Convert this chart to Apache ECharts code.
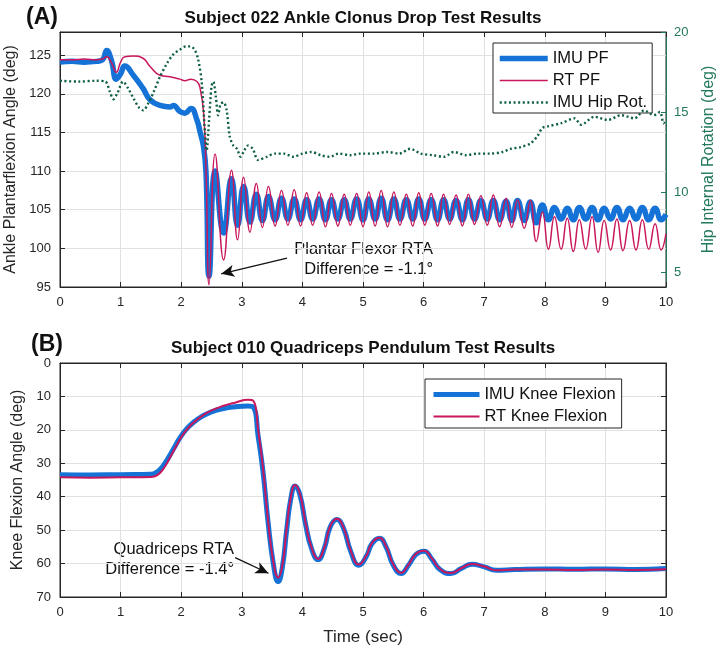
<!DOCTYPE html>
<html><head><meta charset="utf-8">
<script src="https://cdn.jsdelivr.net/npm/echarts@6/dist/echarts.min.js"></script>
<style>html,body{margin:0;padding:0;background:#fff}#c{width:722px;height:652px}</style>
</head><body><div id="c"></div>
<script>
// ---------- Panel A data ----------
const pfTime = [
  0,0.2,0.4,0.6,0.7,0.77,0.85,0.93,1.0,1.07,1.21,1.37,1.49,1.65,1.82,1.87,1.98,2.06,2.16,2.26,2.31,2.37,2.41,2.46,
  2.56,2.70,2.83,2.93,3.03,3.135,3.24,3.34,3.44,3.55,
  3.655,3.76,3.865,3.97,4.07,4.17,4.275,4.38,4.48,4.585,
  4.69,4.79,4.895,5.0,5.095,5.2,5.30,5.405,5.51,5.61,
  5.715,5.82,5.92,6.02,6.125,6.23,6.33,6.43,6.535,6.64,
  6.74,6.84,6.945,7.05,7.15,7.255,7.36,7.455,7.55,7.66,
  7.76,7.86,7.96,8.06,8.16,8.27,8.37,8.47,8.57,8.675,
  8.78,8.88,8.98,9.085,9.19,9.29,9.40,9.505,9.61,9.715,
  9.82,9.92,10.0
];
const imuPF = [
  124.1,124.2,124.1,124.2,124.4,125.6,124.3,121.9,122.6,123.6,122.4,120.7,119.2,118.5,118.3,118.5,117.7,117.5,118.1,116.6,115.1,113.1,109.7,96.4,
  110.0,102.0,109.0,103.0,108.0,103.4,107.0,103.6,106.7,103.7,
  106.5,103.8,106.4,103.7,106.3,103.8,106.4,103.7,106.3,103.8,
  106.3,103.8,106.4,103.7,106.4,103.8,106.5,103.7,106.4,103.8,
  106.3,103.8,106.4,103.8,106.3,103.7,106.3,103.8,106.2,103.7,
  106.3,103.8,106.2,103.8,106.2,103.7,106.1,103.6,106.2,103.6,
  106.0,103.3,105.6,103.7,105.3,103.8,105.2,103.7,105.3,103.8,
  105.3,103.7,105.2,103.8,105.3,103.7,105.2,103.8,105.3,103.7,
  105.2,103.7,104.4
];
const rtPF = [
  124.4,124.4,124.5,124.4,124.5,124.8,124.0,122.8,124.1,124.8,124.9,124.6,123.5,122.4,122.2,122.1,121.9,121.7,121.9,121.6,120.8,117.5,110.0,95.3,
  112.2,98.5,110.1,101.1,109.2,102.1,108.4,102.7,108.0,102.9,
  107.5,103.0,107.6,102.9,107.2,103.0,107.3,102.8,107.1,102.9,
  107.0,103.0,107.1,102.8,107.3,102.9,107.5,102.8,107.3,103.0,
  107.0,102.9,107.2,103.0,107.1,102.9,107.0,103.1,106.9,102.9,
  107.0,103.1,106.8,103.0,106.9,102.8,106.5,102.7,106.3,102.6,
  106.2,100.9,104.7,99.9,104.1,99.9,103.9,99.6,103.7,99.9,
  104.1,99.5,103.6,99.8,103.8,99.7,103.6,99.8,103.7,99.9,
  103.2,99.8,101.9
];
const hipTime = [
  0,0.3,0.6,0.75,0.82,0.88,0.95,1.04,1.12,1.22,1.3,1.375,1.45,1.54,1.65,1.76,1.87,1.98,2.08,2.15,
  2.22,2.28,2.34,2.39,2.42,2.46,2.5,2.53,2.57,2.61,2.65,2.7,2.75,2.8,2.86,2.92,2.98,3.04,3.1,3.18,
  3.27,3.41,3.55,3.69,3.85,4.0,4.15,4.3,4.45,4.6,4.79,4.96,5.18,5.4,5.6,5.78,5.95,6.15,6.34,6.5,
  6.7,6.89,7.1,7.3,7.44,7.6,7.77,7.88,7.96,8.05,8.27,8.49,8.6,8.82,9.04,9.26,9.48,9.64,9.8,9.9,
  9.96,10
];
const hipRot = [
  16.95,16.9,16.95,16.9,16.3,15.8,16.2,16.9,16.5,15.8,15.3,15.1,15.5,16.2,17.2,18.0,18.6,18.9,19.1,19.1,
  18.9,18.3,16.8,13.8,12.6,14.5,16.6,16.9,16.0,14.8,15.5,15.6,15.1,13.5,12.9,12.7,12.2,12.6,12.9,12.7,
  12.0,12.2,12.4,12.4,12.2,12.4,12.5,12.3,12.2,12.4,12.3,12.4,12.4,12.5,12.4,12.7,12.4,12.3,12.2,12.5,
  12.3,12.4,12.4,12.5,12.7,12.8,13.05,13.5,14.0,14.1,14.3,14.6,14.2,14.7,14.5,14.8,14.6,15.1,14.8,15.0,
  14.3,14.5
];
const pfTicks = [95,100,105,110,115,120,125];
const hipTicks = [5,10,15,20];

// ---------- Panel B data ----------
const kneeTime = [
  0,0.5,1.0,1.5,1.6,1.7,1.8,1.9,2.0,2.1,2.2,2.35,2.5,2.7,2.9,3.1,3.19,3.27,3.35,3.43,
  3.52,3.6,3.67,3.74,3.81,3.88,3.96,4.05,4.15,4.26,4.36,4.46,4.57,4.68,4.8,4.93,5.05,5.15,5.27,5.38,
  5.5,5.63,5.75,5.88,6.01,6.13,6.27,6.45,6.62,6.8,7.0,7.2,7.5,8.0,8.5,9.0,9.5,10.0
];
const imuKnee = [
  33.4,33.5,33.4,33.3,32.6,30.8,28.0,24.8,21.8,19.5,17.8,15.9,14.6,13.6,13.1,12.9,13.2,22.0,32.5,47.0,
  60.0,65.4,61.0,50.0,40.5,36.8,39.5,48.0,55.5,58.8,55.5,49.0,46.8,49.5,56.5,60.5,58.0,54.0,52.4,55.0,
  60.5,63.0,60.5,57.2,56.3,58.5,61.8,63.0,61.5,60.2,61.0,62.0,61.8,61.6,61.7,61.6,61.8,61.5
];
const rtKnee = [
  34.2,34.3,34.2,34.1,33.6,31.8,28.8,25.4,22.2,19.8,17.9,15.8,14.2,12.8,11.8,11.0,11.3,20.0,31.5,46.5,
  59.5,64.2,60.5,49.5,40.0,36.5,39.2,47.6,55.2,58.6,55.3,48.8,46.6,49.3,56.3,60.3,57.8,53.8,52.3,54.8,
  60.3,62.8,60.3,57.0,56.2,58.3,61.6,62.8,61.4,60.1,60.9,62.0,61.8,61.8,61.9,61.8,61.9,61.7
];
const timeTicks = [0,1,2,3,4,5,6,7,8,9,10];
const kneeTicks = [0,10,20,30,40,50,60,70];

// ---------- styling ----------
const FONT = '"Liberation Sans", Arial, Helvetica, sans-serif';
const INK = '#262626';
const GRIDC = '#e1e1e1';
const BLUE = '#1572d6';
const RED = '#c8175c';
const DGREEN = '#0f5f44';
const AXGREEN = '#22785b';

const pair = (ts, vs) => ts.map((t, i) => [t, vs[i]]);

function xAx(gi, pos, extra) {
  return Object.assign({
    gridIndex: gi, type: 'value', min: 0, max: 10, interval: 1, position: pos,
    axisLine: { show: true, onZero: false, lineStyle: { color: INK, width: 1 } },
    axisTick: { show: true, inside: true, length: 5, lineStyle: { color: INK } },
    axisLabel: pos === 'bottom'
      ? { show: true, fontSize: 13, color: INK, margin: 9, fontFamily: FONT }
      : { show: false },
    splitLine: { show: pos === 'bottom', lineStyle: { color: GRIDC, width: 1 } }
  }, extra || {});
}

const legendCommon = {
  orient: 'vertical', itemHeight: 14, itemGap: 5,
  backgroundColor: '#fff', borderColor: INK, borderWidth: 1, borderRadius: 0,
  selectedMode: false,
  itemStyle: { opacity: 0, color: 'rgba(0,0,0,0)', borderColor: 'rgba(0,0,0,0)', borderWidth: 0 },
  lineStyle: { width: 'inherit', type: 'inherit' },
  textStyle: { fontSize: 16.5, color: '#111', fontFamily: FONT, lineHeight: 17 }
};

const chart = echarts.init(document.getElementById('c'), null, { renderer: 'canvas' });

const option = {
  animation: false,
  backgroundColor: '#fff',
  textStyle: { fontFamily: FONT },
  grid: [
    { left: 60, top: 32, width: 606, height: 255, show: true, borderColor: INK, borderWidth: 1,
      backgroundColor: 'transparent', containLabel: false, outerBoundsMode: 'none' },
    { left: 60, top: 363, width: 606, height: 234, show: true, borderColor: INK, borderWidth: 1,
      backgroundColor: 'transparent', containLabel: false, outerBoundsMode: 'none' }
  ],
  xAxis: [
    xAx(0, 'bottom'),
    xAx(0, 'top'),
    xAx(1, 'bottom', { name: 'Time (sec)', nameLocation: 'middle', nameGap: 32,
      nameTextStyle: { fontSize: 17, color: INK, fontFamily: FONT } }),
    xAx(1, 'top')
  ],
  yAxis: [
    { gridIndex: 0, type: 'value', min: 95, max: 128, interval: 5, position: 'left',
      axisLine: { show: true, onZero: false, lineStyle: { color: INK } },
      axisTick: { show: true, inside: true, length: 5, lineStyle: { color: INK } },
      axisLabel: { fontSize: 13, color: INK, margin: 9, fontFamily: FONT, showMaxLabel: false,
        formatter: v => (pfTicks.indexOf(v) >= 0 ? String(v) : '') },
      splitLine: { show: true, lineStyle: { color: GRIDC } },
      name: 'Ankle Plantarflexion Angle (deg)', nameLocation: 'middle', nameGap: 41,
      nameTextStyle: { fontSize: 16, color: INK, fontFamily: FONT } },
    { gridIndex: 0, type: 'value', min: 4.06, max: 20, position: 'right',
      axisLine: { show: true, onZero: false, lineStyle: { color: AXGREEN } },
      axisTick: { show: true, inside: true, length: 5, lineStyle: { color: AXGREEN }, customValues: hipTicks },
      axisLabel: { fontSize: 13, color: AXGREEN, margin: 8, fontFamily: FONT, customValues: hipTicks },
      splitLine: { show: false },
      name: 'Hip Internal Rotation (deg)', nameLocation: 'middle', nameGap: 35,
      nameTextStyle: { fontSize: 16, color: AXGREEN, fontFamily: FONT } },
    { gridIndex: 1, type: 'value', min: 0, max: 70, interval: 10, inverse: true, position: 'left',
      axisLine: { show: true, onZero: false, lineStyle: { color: INK } },
      axisTick: { show: true, inside: true, length: 5, lineStyle: { color: INK } },
      axisLabel: { fontSize: 13, color: INK, margin: 9, fontFamily: FONT },
      splitLine: { show: true, lineStyle: { color: GRIDC } },
      name: 'Knee Flexion Angle (deg)', nameLocation: 'middle', nameGap: 28,
      nameTextStyle: { fontSize: 16, color: INK, fontFamily: FONT } },
    { gridIndex: 1, type: 'value', min: 0, max: 70, interval: 10, inverse: true, position: 'right',
      axisLine: { show: true, onZero: false, lineStyle: { color: INK } },
      axisTick: { show: true, inside: true, length: 5, lineStyle: { color: INK } },
      axisLabel: { show: false }, splitLine: { show: false } }
  ],
  legend: [
    Object.assign({}, legendCommon, { data: ['IMU PF', 'RT PF', 'IMU Hip Rot.'], left: 493, top: 43,
      itemWidth: 48, padding: [7, 5, 2, 4] }),
    Object.assign({}, legendCommon, { data: ['IMU Knee Flexion', 'RT Knee Flexion'], left: 425, top: 379,
      itemWidth: 46, padding: [7, 6, 3, 6] })
  ],
  series: [
    { name: 'IMU PF', type: 'line', xAxisIndex: 0, yAxisIndex: 0, data: pair(pfTime, imuPF),
      showSymbol: false, symbol: 'none', smooth: 0.5, color: BLUE,
      lineStyle: { color: BLUE, width: 5.5 }, z: 2 },
    { name: 'RT PF', type: 'line', xAxisIndex: 0, yAxisIndex: 0, data: pair(pfTime, rtPF),
      showSymbol: false, symbol: 'none', smooth: 0.5, color: RED,
      lineStyle: { color: RED, width: 1.5 }, z: 3,
      markLine: { silent: true, symbol: ['none', 'arrow'], symbolSize: [9, 13], animation: false,
        label: { show: false }, lineStyle: { color: '#111', width: 1.3, type: 'solid' },
        data: [[{ coord: [3.746, 98.75] }, { coord: [2.66, 96.7] }]] } },
    { name: 'IMU Hip Rot.', type: 'line', xAxisIndex: 0, yAxisIndex: 1, data: pair(hipTime, hipRot),
      showSymbol: false, symbol: 'none', smooth: 0.3, color: DGREEN,
      lineStyle: { color: DGREEN, width: 2.4, type: [2, 2.6] }, z: 4 },
    { name: 'IMU Knee Flexion', type: 'line', xAxisIndex: 2, yAxisIndex: 2, data: pair(kneeTime, imuKnee),
      showSymbol: false, symbol: 'none', smooth: 0.5, color: BLUE,
      lineStyle: { color: BLUE, width: 5 }, z: 2 },
    { name: 'RT Knee Flexion', type: 'line', xAxisIndex: 2, yAxisIndex: 2, data: pair(kneeTime, rtKnee),
      showSymbol: false, symbol: 'none', smooth: 0.5, color: RED,
      lineStyle: { color: RED, width: 2 }, z: 3,
      markLine: { silent: true, symbol: ['none', 'arrow'], symbolSize: [9, 13], animation: false,
        label: { show: false }, lineStyle: { color: '#111', width: 1.3, type: 'solid' },
        data: [[{ coord: [2.89, 58.2] }, { coord: [3.44, 62.9] }]] } }
  ],
  graphic: [
    { type: 'text', x: 26, y: 18, style: { text: '(A)', font: 'bold 23px ' + FONT, fill: '#111', align: 'left', verticalAlign: 'middle' } },
    { type: 'text', x: 363, y: 18, style: { text: 'Subject 022 Ankle Clonus Drop Test Results', font: 'bold 17px ' + FONT, fill: '#111', align: 'center', verticalAlign: 'middle' } },
    { type: 'text', x: 31, y: 345, style: { text: '(B)', font: 'bold 23px ' + FONT, fill: '#111', align: 'left', verticalAlign: 'middle' } },
    { type: 'text', x: 363, y: 348, style: { text: 'Subject 010 Quadriceps Pendulum Test Results', font: 'bold 17px ' + FONT, fill: '#111', align: 'center', verticalAlign: 'middle' } },
    { type: 'text', x: 433, y: 259, style: { text: 'Plantar Flexor RTA\nDifference = -1.1°', font: '16.5px ' + FONT, lineHeight: 20, fill: '#111', align: 'right', verticalAlign: 'middle' } },
    { type: 'text', x: 234, y: 559, style: { text: 'Quadriceps RTA\nDifference = -1.4°', font: '16.5px ' + FONT, lineHeight: 20, fill: '#111', align: 'right', verticalAlign: 'middle' } }
  ]
};
chart.setOption(option);
</script>
</body></html>
